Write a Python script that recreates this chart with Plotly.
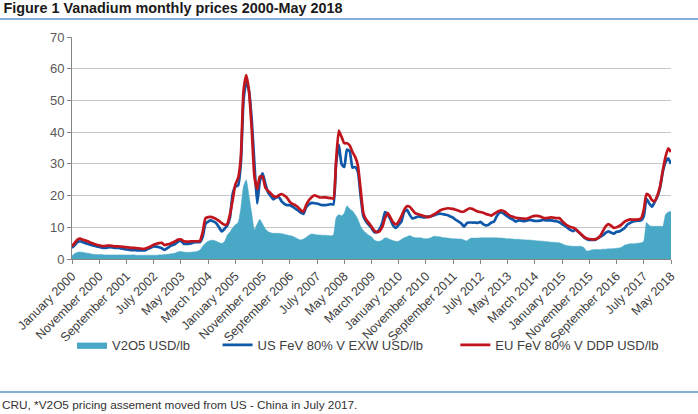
import pandas as pd
import plotly.graph_objects as go

# monthly categories, January 2000 - May 2018
months = pd.date_range("2000-01-01", "2018-05-01", freq="MS").strftime("%B %Y").tolist()

# V2O5 USD/lb (area)
v2o5 = [
    1.0, 1.7, 2.1, 2.2, 2.1, 1.9, 1.8, 1.6, 1.5, 1.4, 1.4, 1.4,  # 2000
    1.3, 1.3, 1.3, 1.3, 1.3, 1.3, 1.3, 1.3, 1.3, 1.3, 1.3, 1.3,  # 2001
    1.2, 1.2, 1.2, 1.2, 1.2, 1.2, 1.2, 1.2, 1.3, 1.3, 1.4, 1.5,  # 2002
    1.6, 1.7, 1.9, 2.3, 2.4, 2.2, 2.1, 2.1, 2.2, 2.3, 2.4, 2.8,  # 2003
    4.0, 5.0, 5.6, 5.9, 5.9, 5.6, 5.2, 4.9, 5.5, 7.5, 8.5, 9.8,  # 2004
    10.8, 11.5, 16.0, 23.0, 25.0, 20.0, 14.5, 9.2, 11.0, 12.5, 11.0, 9.5,  # 2005
    8.6, 8.3, 8.1, 8.1, 8.1, 8.0, 7.8, 7.6, 7.4, 7.2, 6.8, 6.3,  # 2006
    6.0, 6.3, 6.8, 7.5, 7.9, 7.8, 7.6, 7.6, 7.5, 7.5, 7.4, 7.3,  # 2007
    7.6, 13.0, 14.0, 13.6, 14.5, 16.8, 15.8, 15.2, 14.0, 12.5, 10.3, 9.0,  # 2008
    8.2, 7.5, 7.0, 6.0, 5.6, 5.6, 6.0, 6.7, 6.5, 6.1, 5.8, 5.5,  # 2009
    5.6, 6.2, 6.7, 7.0, 7.4, 7.0, 6.7, 6.7, 6.7, 6.5, 6.4, 6.5,  # 2010
    6.8, 7.2, 7.1, 7.0, 6.8, 6.7, 6.6, 6.5, 6.4, 6.4, 6.3, 6.3,  # 2011
    6.0, 5.7, 6.4, 6.6, 6.6, 6.6, 6.7, 6.7, 6.7, 6.7, 6.7, 6.7,  # 2012
    6.7, 6.6, 6.6, 6.5, 6.4, 6.4, 6.3, 6.2, 6.2, 6.1, 6.1, 6.0,  # 2013
    6.0, 5.9, 5.8, 5.7, 5.7, 5.6, 5.5, 5.4, 5.3, 5.3, 5.2, 5.1,  # 2014
    4.8, 4.4, 4.2, 4.1, 4.0, 4.0, 4.0, 4.0, 3.6, 2.5, 2.6, 2.9,  # 2015
    3.0, 3.0, 3.0, 3.1, 3.1, 3.2, 3.2, 3.3, 3.4, 3.5, 3.8, 4.4,  # 2016
    4.6, 4.8, 4.8, 4.9, 5.0, 5.1, 5.6, 11.5, 10.6, 10.3, 10.3, 10.3,  # 2017
    10.3, 10.3, 14.0, 14.8, 15.0,  # 2018
]

# US FeV 80% V EXW USD/lb
us_fev = [
    3.5, 4.4, 5.3, 5.6, 5.3, 5.0, 4.7, 4.4, 4.2, 4.0, 3.8, 3.6,
    3.5, 3.6, 3.7, 3.6, 3.5, 3.5, 3.3, 3.2, 3.0, 2.9, 2.8, 2.8,
    2.7, 2.7, 2.7, 2.8, 3.2, 3.6, 4.0, 3.9, 3.7, 3.4, 2.9, 3.4,
    4.0, 4.4, 4.8, 5.5, 5.8, 4.8, 4.8, 4.8, 5.0, 5.3, 5.3, 5.3,
    7.0, 11.0, 11.8, 12.2, 11.8, 11.3, 10.0, 8.7, 9.5, 10.5, 13.0, 20.5,
    22.8, 23.2, 30.0, 50.0, 56.0, 53.0, 44.0, 30.0, 17.5, 24.5, 27.0, 23.8,
    21.0, 19.8, 18.8, 19.4, 19.5, 18.2, 17.4, 17.0, 17.0, 16.5, 15.9, 15.3,
    14.6, 14.2, 16.3, 17.2, 17.7, 17.6, 17.5, 17.2, 17.0, 17.0, 17.1, 17.3,
    17.2, 30.0, 36.0, 30.0, 29.0, 34.5, 34.0, 28.8, 29.0, 27.5, 20.0, 13.5,
    11.8, 10.8, 9.8, 8.5, 8.5, 9.5, 11.5, 14.8, 14.0, 12.4, 10.5, 9.8,
    10.8, 11.8, 14.9, 15.5, 14.0, 12.8, 13.0, 13.4, 13.3, 13.1, 13.2, 13.4,
    13.5, 13.8, 14.1, 14.3, 14.2, 14.0, 13.8, 13.4, 13.0, 12.3, 11.8, 11.2,
    10.2, 11.3, 11.5, 11.5, 11.5, 11.4, 11.7, 11.0, 10.6, 10.8, 11.5, 11.8,
    13.5, 14.6, 14.6, 14.0, 13.4, 12.8, 12.4, 11.8, 12.2, 12.1, 11.9, 12.1,
    12.3, 12.2, 12.0, 12.0, 12.1, 12.3, 12.2, 12.2, 12.2, 12.0, 11.9, 11.6,
    11.0, 10.5, 9.8, 9.2, 8.8, 9.3, 8.5, 7.7, 6.9, 6.3, 6.0, 6.0,
    6.0, 6.5, 7.0, 7.5, 8.2, 8.7, 8.3, 8.0, 8.6, 8.7, 9.2, 9.8,
    10.9, 11.4, 11.8, 12.0, 12.1, 12.2, 13.5, 19.0, 17.5, 16.5, 18.0, 19.7,
    22.5, 27.5, 30.5, 31.7, 30.0,
]

# EU FeV 80% V DDP USD/lb
eu_fev = [
    4.0, 5.1, 6.1, 6.4, 6.1, 5.8, 5.5, 5.1, 4.8, 4.5, 4.3, 4.1,
    4.1, 4.2, 4.2, 4.1, 4.0, 4.0, 3.9, 3.8, 3.7, 3.6, 3.5, 3.5,
    3.4, 3.3, 3.2, 3.3, 3.6, 4.0, 4.5, 4.8, 5.0, 5.1, 4.4, 4.6,
    4.8, 5.2, 5.6, 6.1, 6.2, 5.6, 5.5, 5.5, 5.6, 5.6, 5.6, 5.7,
    8.5, 12.8, 13.2, 13.3, 13.0, 12.6, 12.0, 11.3, 10.8, 11.0, 14.0, 18.5,
    23.5, 25.5, 32.0, 53.0, 58.0, 53.0, 41.0, 26.0, 22.0, 26.0, 26.0, 22.5,
    21.5, 20.7, 19.8, 19.6, 20.1, 20.5, 20.0, 19.3, 18.0, 17.4, 17.0, 16.3,
    15.4, 14.9, 17.0, 18.5, 19.5, 20.1, 19.8, 19.4, 19.4, 19.4, 19.3, 19.2,
    19.0, 31.0, 40.5, 38.5, 36.5, 36.5, 35.8, 33.8, 32.2, 29.5, 22.0, 14.5,
    12.5, 11.4, 10.2, 9.0, 8.5, 8.8, 10.2, 13.0, 14.5, 13.0, 11.5, 10.9,
    11.8, 13.5, 15.5, 16.6, 16.5, 15.5, 14.5, 14.2, 13.9, 13.6, 13.4, 13.2,
    13.6, 14.1, 14.6, 15.2, 15.6, 15.8, 16.0, 15.9, 15.8, 15.5, 15.2, 14.9,
    15.0, 15.5, 16.0, 15.8, 15.4, 15.0, 14.8, 14.6, 14.2, 14.0, 13.7, 14.2,
    14.8, 15.2, 15.3, 14.9, 14.2, 13.6, 13.3, 13.0, 12.9, 12.8, 12.7, 12.7,
    13.0, 13.4, 13.6, 13.6, 13.4, 13.0, 12.9, 13.0, 13.1, 13.0, 12.9, 12.9,
    12.0, 11.2, 10.5, 10.1, 9.9, 9.4, 8.6, 7.8, 7.0, 6.5, 6.3, 6.2,
    6.2, 6.5, 7.3, 8.8, 10.3, 11.0, 10.5, 9.8, 10.0, 10.4, 11.0, 11.8,
    12.2, 12.5, 12.4, 12.4, 12.5, 12.8, 15.5, 20.5, 20.0, 18.6, 18.2, 20.0,
    23.0, 28.0, 32.3, 34.9, 33.7,
]

# every tenth month is labelled
tick_labels = months[::10]

FONT = "Liberation Sans, Arial, sans-serif"

fig = go.Figure()

fig.add_trace(go.Scatter(
    x=months, y=v2o5, name="V2O5 USD/lb", mode="lines",
    fill="tozeroy", fillcolor="#4aa8c7",
    line=dict(color="#4aa8c7", width=0.5, shape="spline", smoothing=0.5),
    legend="legend",
))
fig.add_trace(go.Scatter(
    x=months, y=us_fev, name="US FeV 80% V EXW USD/lb", mode="lines",
    line=dict(color="#0f57a8", width=2.7, shape="spline", smoothing=0.5),
    legend="legend2",
))
fig.add_trace(go.Scatter(
    x=months, y=eu_fev, name="EU FeV 80% V DDP USD/lb", mode="lines",
    line=dict(color="#c1151d", width=2.7, shape="spline", smoothing=0.5),
    legend="legend3",
))

fig.update_xaxes(
    type="category", range=[0, len(months) - 1],
    tickmode="array", tickvals=tick_labels, ticktext=tick_labels,
    tickangle=-45, tickfont=dict(family=FONT, size=12.5, color="#404040"),
    ticks="outside", ticklen=4, tickcolor="#868686",
    showline=True, linecolor="#868686", linewidth=1,
    showgrid=False, zeroline=False, automargin=False,
)
fig.update_yaxes(
    range=[0, 70], dtick=10,
    tickfont=dict(family=FONT, size=13, color="#595959"),
    ticks="outside", ticklen=4, tickcolor="#868686",
    showline=True, linecolor="#868686", linewidth=1,
    showgrid=True, gridcolor="#c6c6c6", gridwidth=1, zeroline=False,
    automargin=False,
)

leg = dict(orientation="h", yanchor="middle", xanchor="left",
           font=dict(family=FONT, size=13, color="#404040"),
           bgcolor="rgba(0,0,0,0)", itemwidth=30)
fig.update_layout(
    width=698, height=414,
    margin=dict(l=72, r=27, t=37, b=155),
    plot_bgcolor="white", paper_bgcolor="white",
    showlegend=True,
    legend=dict(leg, x=0.0, y=-0.387),
    legend2=dict(leg, x=0.243, y=-0.387),
    legend3=dict(leg, x=0.64, y=-0.387),
    title=dict(text="<b>Figure 1 Vanadium monthly prices 2000-May 2018</b>",
               x=0.005, xanchor="left", y=0.98, yanchor="middle",
               font=dict(family=FONT, size=14.4, color="#1a1a1a")),
    annotations=[dict(
        text="CRU, *V2O5 pricing assement moved from US - China in July 2017.",
        xref="paper", yref="paper", x=-72 / 599, y=-0.659,
        xanchor="left", yanchor="middle", showarrow=False,
        font=dict(family=FONT, size=11.8, color="#333333"),
    )],
    shapes=[
        dict(type="line", xref="paper", yref="paper",
             x0=-72 / 599, x1=626 / 599, y0=1.081, y1=1.081,
             line=dict(color="#5b92cf", width=1.5)),
        dict(type="line", xref="paper", yref="paper",
             x0=-72 / 599, x1=626 / 599, y0=-0.599, y1=-0.599,
             line=dict(color="#5b92cf", width=1.5)),
    ],
)

# drop the page's default body margin so the figure sits at the window corner
fig.write_html("out.html", config={"displayModeBar": False},
               post_script="document.body.style.margin='0px';")
